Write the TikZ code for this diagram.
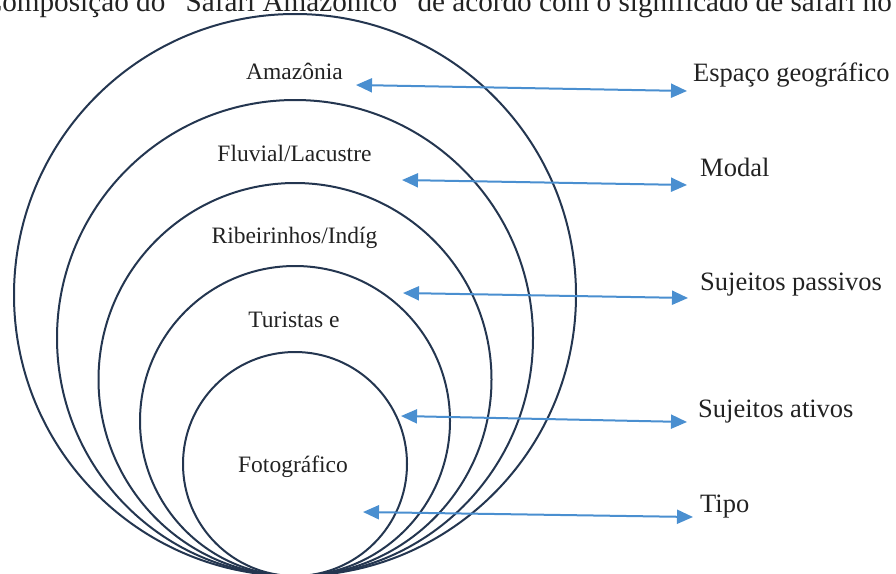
\documentclass[tikz,border=0pt]{standalone}
\usepackage{fontspec}
\setmainfont{Liberation Serif}
\usetikzlibrary{arrows.meta}
\definecolor{ring}{HTML}{243650}
\definecolor{arrowblue}{HTML}{4A8FD0}
\definecolor{txt}{HTML}{222222}
\begin{document}
\begin{tikzpicture}[x=1pt,y=-1pt,
  ringline/.style={draw=ring,line width=2pt},
  inner/.style={text=txt,font=\fontsize{23.5}{28}\selectfont,anchor=base,inner sep=0pt},
  side/.style={text=txt,font=\fontsize{26.5}{32}\selectfont,anchor=base west,inner sep=0pt},
  link/.style={draw=arrowblue,line width=2pt,{Triangle[length=16pt,width=14pt]}-{Triangle[length=16pt,width=14pt]}}]
\useasboundingbox (0,0) rectangle (896,573);
\clip (0,0) rectangle (896,573);
\node[text=txt,font=\fontsize{29.2}{35}\selectfont,anchor=base east,inner sep=0pt] (head) at (892,11) {Composição do “Safari Amazônico” de acordo com o significado de safari no};
\draw[ringline] (295,295) circle[radius=281pt];
\draw[ringline] (295,338) circle[radius=238pt];
\draw[ringline] (295,379.5) circle[radius=196.5pt];
\draw[ringline] (295,421) circle[radius=155pt];
\draw[ringline] (295,464) circle[radius=112pt];
\node[inner] (l1) at (294.5,79) {Amazônia};
\node[inner] (l2) at (294.5,161) {Fluvial/Lacustre};
\node[inner] (l3) at (294.5,243) {Ribeirinhos/Indíg};
\node[inner] (l4) at (294,327) {Turistas e};
\node[inner] (l5) at (293,472) {Fotográfico};
\node[side] (r1) at (693,81) {Espaço geográfico};
\node[side] (r2) at (700,176) {Modal};
\node[side] (r3) at (700,290) {Sujeitos passivos};
\node[side] (r4) at (698,417) {Sujeitos ativos};
\node[side] (r5) at (700,512) {Tipo};
\coordinate (a1) at (356,85); \coordinate (b1) at (687,91);
\coordinate (a2) at (402,180); \coordinate (b2) at (687,185);
\coordinate (a3) at (403,293); \coordinate (b3) at (688,298);
\coordinate (a4) at (401,416); \coordinate (b4) at (687,422);
\coordinate (a5) at (363,512); \coordinate (b5) at (693,517);
\draw[link] (a1) -- (b1);
\draw[link] (a2) -- (b2);
\draw[link] (a3) -- (b3);
\draw[link] (a4) -- (b4);
\draw[link] (a5) -- (b5);
\end{tikzpicture}
\end{document}
